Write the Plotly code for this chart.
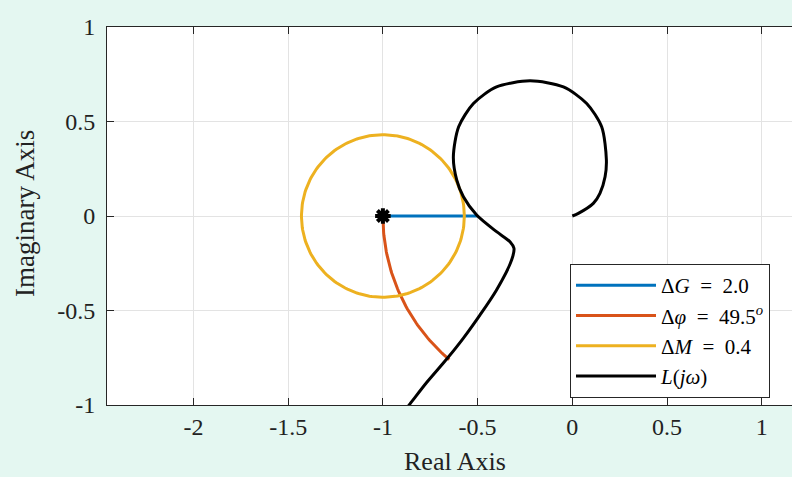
import numpy as np
import plotly.graph_objects as go

# ---- data ----
L_re = [0.0, 0.032, 0.111, 0.146, 0.173, 0.180, 0.155, 0.076, -0.047, -0.223, -0.400,
        -0.522, -0.600, -0.628, -0.610, -0.575, -0.505, -0.400, -0.329, -0.308, -0.320,
        -0.400, -0.487, -0.575, -0.663, -0.768, -0.856, -0.940]
L_im = [0.0, 0.014, 0.067, 0.120, 0.208, 0.296, 0.472, 0.595, 0.683, 0.715, 0.683,
        0.595, 0.472, 0.313, 0.190, 0.102, 0.005, -0.083, -0.136, -0.171, -0.232,
        -0.391, -0.523, -0.646, -0.757, -0.880, -0.993, -1.100]

gain_cross = -0.5          # real-axis crossing of L(jw)
dG = 2.0
dphi = 49.5                # phase margin, degrees
dM = 0.43                  # modulus (stability) margin radius
crit = (-1.0, 0.0)

x_ticks = [-2, -1.5, -1, -0.5, 0, 0.5, 1]
y_ticks = [-1, -0.5, 0, 0.5, 1]
x_tick_text = ["-2", "-1.5", "-1", "-0.5", "0", "0.5", "1"]
y_tick_text = ["-1", "-0.5", "0", "0.5", "1"]

BLUE, ORANGE, YELLOW = "#0072BD", "#D95319", "#EDB120"
FONT = "Liberation Serif"
BG = "#e4f7f1"
SP = "\u2002"

th_phi = np.radians(np.linspace(180, 180 + dphi, 60))
th_c = np.linspace(0, 2 * np.pi, 200)

fig = go.Figure()
fig.add_trace(go.Scatter(x=[crit[0], gain_cross], y=[0, 0], mode="lines",
                         line=dict(color=BLUE, width=3),
                         name="Δ<i>G</i>%s=%s%.1f" % (SP, SP, dG)))
fig.add_trace(go.Scatter(x=np.cos(th_phi), y=np.sin(th_phi), mode="lines",
                         line=dict(color=ORANGE, width=3),
                         name="Δ<i>φ</i>%s=%s%.1f<sup><i>o</i></sup>" % (SP, SP, dphi)))
fig.add_trace(go.Scatter(x=crit[0] + dM * np.cos(th_c), y=crit[1] + dM * np.sin(th_c),
                         mode="lines", line=dict(color=YELLOW, width=3),
                         name="Δ<i>M</i>%s=%s%.1f" % (SP, SP, dM)))
fig.add_trace(go.Scatter(x=L_re, y=L_im, mode="lines",
                         line=dict(color="black", width=3, shape="spline", smoothing=0.8),
                         name="<i>L</i>(<i>jω</i>)"))
fig.add_trace(go.Scatter(x=[crit[0]], y=[crit[1]], mode="markers", showlegend=False,
                         marker=dict(symbol="asterisk-open", size=13, color="black",
                                     line=dict(color="black", width=4))))

W, H = 792, 477
ml, mt, mb, mr = 107, 27, 72, 0
pw, ph = W - ml - mr, H - mt - mb
x0 = 572.3
ppu = 189.4
xr = [(ml - x0) / ppu, (W - x0) / ppu]

axis_common = dict(showgrid=True, gridcolor="#e3e3e3", gridwidth=1, zeroline=False,
                   showline=True, linecolor="#262626", linewidth=1,
                   ticks="inside", ticklen=7, tickcolor="#262626",
                   tickfont=dict(family=FONT, size=24, color="#222222"))

fig.update_layout(
    width=W, height=H, margin=dict(l=ml, r=mr, t=mt, b=mb),
    paper_bgcolor=BG, plot_bgcolor="white",
    xaxis=dict(range=xr, tickvals=x_ticks, ticktext=x_tick_text, mirror="ticks",
               **axis_common),
    yaxis=dict(range=[-1, 1], tickvals=y_ticks, ticktext=y_tick_text, mirror=False,
               ticklabelstandoff=6, **axis_common),
    showlegend=True,
    legend=dict(x=(570 - ml) / pw, y=(405 - 264) / ph, xanchor="left", yanchor="top",
                bgcolor="white", bordercolor="#262626", borderwidth=1,
                font=dict(family=FONT, size=21, color="black"),
                itemwidth=80, tracegroupgap=0),
    annotations=[
        dict(text="Real Axis", xref="paper", yref="paper", x=(455 - ml) / pw,
             y=(405 - 461) / ph, showarrow=False, xanchor="center", yanchor="middle",
             font=dict(family=FONT, size=26, color="#222222")),
        dict(text="Imaginary Axis", xref="paper", yref="paper", x=(25 - ml) / pw,
             y=(405 - 214) / ph, showarrow=False, xanchor="center", yanchor="middle",
             textangle=-90, font=dict(family=FONT, size=27, color="#222222")),
    ],
)

fig.write_html("out.html")
